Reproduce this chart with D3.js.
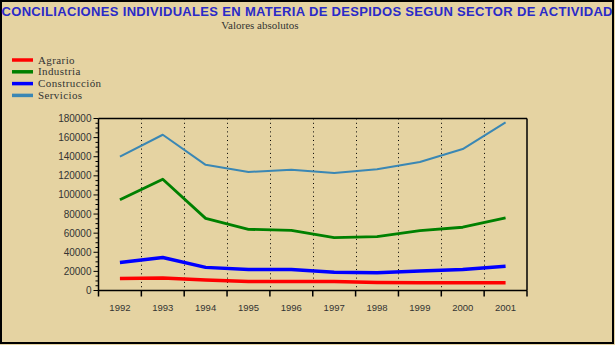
<!DOCTYPE html>
<html><head><meta charset="utf-8">
<script src="https://cdn.jsdelivr.net/npm/d3@7"></script>
<style>html,body{margin:0;padding:0;background:#e5d3a2;}svg{display:block;}</style>
</head><body>
<svg id="c" width="615" height="345"></svg>
<script>
const years = ["1992","1993","1994","1995","1996","1997","1998","1999","2000","2001"];
const agrario = [12500,13000,11000,9500,9500,9500,8500,8000,8000,8000];
const industria = [95000,116500,75500,64000,63000,55300,56300,62600,66200,76000];
const construccion = [29400,34500,24200,22000,22000,19000,18500,20300,22000,25500];
const servicios = [140000,163000,131500,124000,126400,123000,127000,134500,148000,176000];
const seriesNames = ["Agrario","Industria","Construcción","Servicios"];
const seriesColors = ["#ff0000","#008000","#0000ff","#3a87b4"];
const seriesWidths = [3.5,2.8,3.5,2];
const yTicks = [0,20000,40000,60000,80000,100000,120000,140000,160000,180000];

const svg = d3.select("#c");
svg.append("rect").attr("x",0).attr("y",0).attr("width",615).attr("height",345).attr("fill","#e5d3a2");
svg.append("rect").attr("x",1).attr("y",1).attr("width",612).attr("height",342)
  .attr("fill","none").attr("stroke","#000").attr("stroke-width",2);

svg.append("text").attr("x",307).attr("y",16).attr("text-anchor","middle")
  .attr("font-family","Liberation Sans, Arial, sans-serif").attr("font-weight","bold")
  .attr("font-size",13).attr("fill","#2a2ac8")
  .attr("textLength",611).attr("lengthAdjust","spacing")
  .text("CONCILIACIONES INDIVIDUALES EN MATERIA DE DESPIDOS SEGUN SECTOR DE ACTIVIDAD");
svg.append("text").attr("x",260).attr("y",29).attr("text-anchor","middle")
  .attr("font-family","Liberation Serif, Times New Roman, serif")
  .attr("font-size",11).attr("fill","#333")
  .text("Valores absolutos");

const L=98.5, R=527, T=118.5, B=290.5;
const x = d3.scaleBand().domain(years).range([L,R]);
const y = d3.scaleLinear().domain([0,180000]).range([B,T]);

// dotted grid at band boundaries
const bounds = years.slice(1).map(d=>x(d));
svg.append("g").selectAll("line").data(bounds).join("line")
  .attr("x1",d=>Math.round(d)+0.5).attr("x2",d=>Math.round(d)+0.5).attr("y1",T).attr("y2",B)
  .attr("stroke","#000").attr("stroke-width",1).attr("stroke-dasharray","1,3.3");

// frame top & right
svg.append("line").attr("x1",L).attr("x2",R).attr("y1",T).attr("y2",T).attr("stroke","#000").attr("stroke-width",1.5);
svg.append("line").attr("x1",R).attr("x2",R).attr("y1",T).attr("y2",B).attr("stroke","#000").attr("stroke-width",1.5);

// y axis
const minor = d3.range(0,180001,5000);
const ya = svg.append("g").attr("transform",`translate(${L},0)`);
ya.selectAll("line.mn").data(minor).join("line").attr("class","mn")
  .attr("x1",d=>yTicks.includes(d)?-5:-3).attr("x2",0).attr("y1",d=>y(d)).attr("y2",d=>y(d))
  .attr("stroke","#000").attr("stroke-width",1);
ya.append("line").attr("x1",0).attr("x2",0).attr("y1",T).attr("y2",B).attr("stroke","#000").attr("stroke-width",1.5);
ya.selectAll("text").data(yTicks).join("text")
  .attr("x",-7).attr("y",d=>y(d)+3.5).attr("text-anchor","end")
  .attr("font-family","Liberation Sans, Arial, sans-serif").attr("font-size",10).attr("fill","#333")
  .text(d=>d);

// x axis
const xa = svg.append("g").attr("transform",`translate(0,${B})`);
xa.call(d3.axisBottom(x).tickSize(0).tickFormat(""));
xa.select(".domain").remove();
xa.append("line").attr("x1",L).attr("x2",R).attr("y1",0).attr("y2",0).attr("stroke","#000").attr("stroke-width",1.5);
const xb = [L].concat(bounds).concat([R]);
xa.selectAll("line.tk").data(xb).join("line").attr("class","tk")
  .attr("x1",d=>d).attr("x2",d=>d).attr("y1",0).attr("y2",6).attr("stroke","#000").attr("stroke-width",1.5);
xa.selectAll("text.lb").data(years).join("text").attr("class","lb")
  .attr("x",d=>x(d)+x.bandwidth()/2).attr("y",20).attr("text-anchor","middle")
  .attr("font-family","Liberation Sans, Arial, sans-serif").attr("font-size",9.5).attr("fill","#333")
  .text(d=>d);

// lines
const data = [agrario,industria,construccion,servicios];
const line = d3.line().x((d,i)=>x(years[i])+x.bandwidth()/2).y(d=>y(d));
[3,1,2,0].forEach(k=>{
  svg.append("path").datum(data[k]).attr("d",line).attr("fill","none")
    .attr("stroke",seriesColors[k]).attr("stroke-width",seriesWidths[k]).attr("stroke-linejoin","round");
});

// legend
const lg = svg.append("g");
seriesNames.forEach((n,i)=>{
  const yy = 60 + i*11.8;
  lg.append("line").attr("x1",12).attr("x2",33).attr("y1",yy).attr("y2",yy)
    .attr("stroke",seriesColors[i]).attr("stroke-width",3.5);
  lg.append("text").attr("x",38).attr("y",yy+3.5)
    .attr("font-family","Liberation Serif, Times New Roman, serif").attr("font-size",11)
    .attr("letter-spacing",0.4).attr("fill","#333")
    .text(n);
});
</script>
</body></html>
